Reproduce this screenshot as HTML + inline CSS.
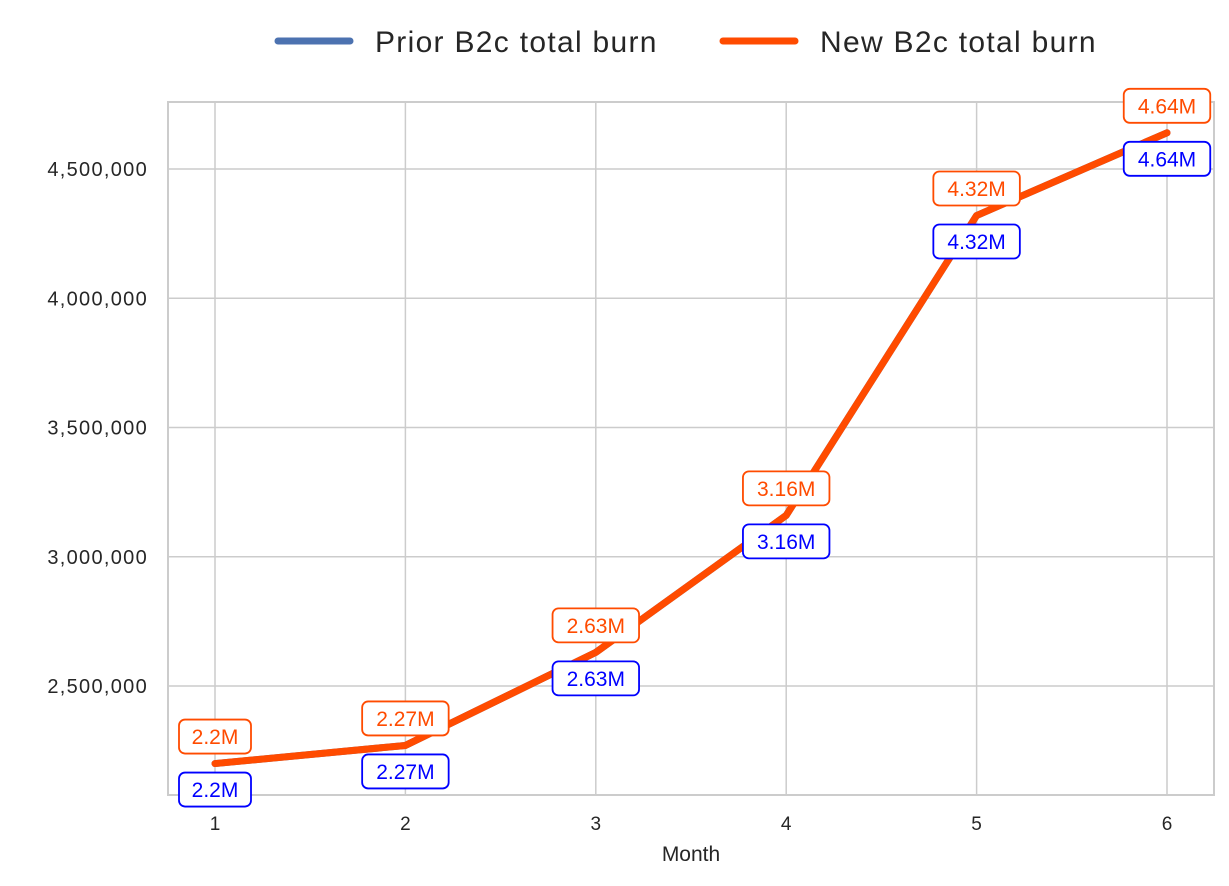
<!DOCTYPE html>
<html><head><meta charset="utf-8"><style>
body{margin:0;background:#fff}
svg text{font-family:"Liberation Sans",Arial,sans-serif}
</style></head><body>
<svg width="1229" height="881" xmlns="http://www.w3.org/2000/svg">
<g id="grid"></g>
<rect x="168" y="102" width="1046" height="693" fill="none" stroke="#cccccc" stroke-width="2"/>
<g id="ticks"></g>
<text x="691" y="861" font-size="21" fill="#262626" text-anchor="middle">Month</text>
<g>
<g><line x1="278" y1="41" x2="350" y2="41" stroke="#4c72b0" stroke-width="7" stroke-linecap="round"/><text x="375" y="52" font-size="30" letter-spacing="1.3" fill="#262626">Prior B2c total burn</text></g>
<g><line x1="723" y1="41" x2="795" y2="41" stroke="#ff4b00" stroke-width="7" stroke-linecap="round"/><text x="820" y="52" font-size="30" letter-spacing="1.3" fill="#262626">New B2c total burn</text></g>
</g>
<g id="series"></g>
<g id="labels"></g>
</svg>
<script>
const months=[1,2,3,4,5,6];
const priorValues=[2200000,2270000,2630000,3160000,4320000,4640000];
const newValues=[2200000,2270000,2630000,3160000,4320000,4640000];
const priorLabels=["2.2M","2.27M","2.63M","3.16M","4.32M","4.64M"];
const newLabels=["2.2M","2.27M","2.63M","3.16M","4.32M","4.64M"];
const yTicks=[2500000,3000000,3500000,4000000,4500000];
const NS="http://www.w3.org/2000/svg";
const X=m=>215+(m-1)*190.4;
const Y=v=>686-(v-2500000)/500000*129.25;
function mk(t,a,p){const e=document.createElementNS(NS,t);for(const k in a)e.setAttribute(k,a[k]);p.appendChild(e);return e;}
const grid=document.getElementById('grid'),ticks=document.getElementById('ticks');
months.forEach(m=>{
 const l=mk('line',{x1:X(m),x2:X(m),y1:102,y2:795,stroke:'#cccccc','stroke-width':1.5},grid);
 
 
 const t=mk('text',{x:X(m),y:830,'font-size':19,fill:'#262626','text-anchor':'middle'},ticks);
 t.textContent=m;
 
 
});
yTicks.forEach(v=>{
 const l=mk('line',{x1:168,x2:1214,y1:Y(v),y2:Y(v),stroke:'#cccccc','stroke-width':1.5},grid);
 
 
 const t=mk('text',{x:148,y:Y(v)+7,'font-size':20,'letter-spacing':1.3,fill:'#262626','text-anchor':'end'},ticks);
 t.textContent=v.toLocaleString('en-US');
 
 
});
const series=document.getElementById('series');
const p1=mk('polyline',{points:months.map((m,i)=>X(m)+','+Y(priorValues[i])).join(' '),fill:'none',stroke:'#4c72b0','stroke-width':7,'stroke-linecap':'round','stroke-linejoin':'round'},series);


const p2=mk('polyline',{points:months.map((m,i)=>X(m)+','+Y(newValues[i])).join(' '),fill:'none',stroke:'#ff4b00','stroke-width':7,'stroke-linecap':'round','stroke-linejoin':'round'},series);


const labels=document.getElementById('labels');
function box(x,cy,txt,col,name){
 const w=txt.length*14.5+14,h=34;
 const g=mk('g',{},labels);
 
 
 mk('rect',{x:x-w/2,y:cy-h/2,width:w,height:h,rx:6,fill:'#fff',stroke:col,'stroke-width':1.8},g);
 const t=mk('text',{x:x,y:cy+7.5,'font-size':21,fill:col,'text-anchor':'middle'},g);
 t.textContent=txt;
}
months.forEach((m,i)=>{
 box(X(m),Y(newValues[i])-27,newLabels[i],'#ff4b00','new-value-label');
 box(X(m),Y(priorValues[i])+26,priorLabels[i],'#0000ff','prior-value-label');
});
</script>
</body></html>
